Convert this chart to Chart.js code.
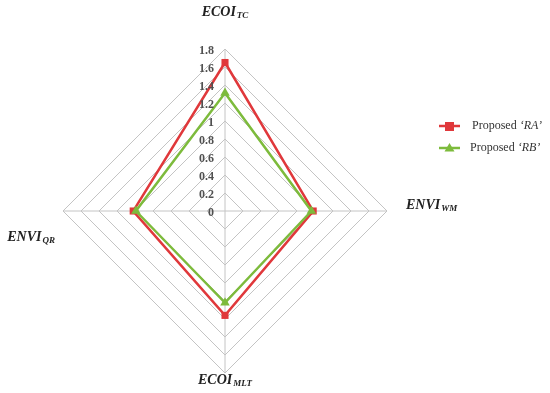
<!DOCTYPE html>
<html>
<head>
<meta charset="utf-8">
<script src="https://cdn.jsdelivr.net/npm/chart.js@4.4.0/dist/chart.umd.min.js"></script>
<style>
  html, body { margin: 0; padding: 0; background: #fff; }
  #wrap { width: 550px; height: 393px; position: relative; }
</style>
</head>
<body>
<div id="wrap"><canvas id="myChart"></canvas></div>
<script>
// datos
const ejes = [
    { base: 'ECOI', sub: 'TC' },
    { base: 'ENVI', sub: 'WM' },
    { base: 'ECOI', sub: 'MLT' },
    { base: 'ENVI', sub: 'QR' }
];
const etiquetas = ejes.map(e => e.base + '_' + e.sub);
const valoresRA = [1.65, 0.98, 1.16, 1.02];
const valoresRB = [1.31, 0.96, 1.02, 0.99];
const nombresSeries = [['Proposed ', '‘RA’'], ['Proposed ', '‘RB’']];
const valorMin = 0;
const valorMax = 1.8;
const paso = 0.2;

const rojo = '#e0383b';
const verde = '#7dbb3c';
const serif = '"Liberation Serif", "DejaVu Serif", serif';

// dibuja etiquetas de ticks, nombres de ejes con subindice y la leyenda
const extras = {
    id: 'extras',
    afterDraw(chart) {
        const ctx = chart.ctx;
        const r = chart.scales.r;
        ctx.save();

        // ticks a la izquierda del eje vertical
        ctx.font = 'bold 12px ' + serif;
        ctx.fillStyle = '#505050';
        ctx.textAlign = 'right';
        ctx.textBaseline = 'middle';
        r.ticks.forEach(t => {
            const d = r.getDistanceFromCenterForValue(t.value);
            const txt = Math.round(t.value * 10) / 10;
            ctx.fillText(String(txt), r.xCenter - 11, r.yCenter - d + 2);
        });

        // nombres de los ejes
        const desp = [[0, -199], [181, -6], [0, 169], [-170, 26]];
        const alin = ['center', 'left', 'center', 'right'];
        ejes.forEach((e, i) => {
            const p = r.getPointPosition(i, 0);
            let x = p.x + desp[i][0];
            const y = p.y + desp[i][1];
            ctx.font = 'italic bold 14px ' + serif;
            const w1 = ctx.measureText(e.base).width;
            ctx.font = 'italic bold 9px ' + serif;
            const w2 = ctx.measureText(e.sub).width;
            const total = w1 + w2 + 1;
            if (alin[i] === 'center') x -= total / 2;
            if (alin[i] === 'right') x -= total;
            ctx.textAlign = 'left';
            ctx.fillStyle = '#222';
            ctx.font = 'italic bold 14px ' + serif;
            ctx.fillText(e.base, x, y);
            ctx.font = 'italic bold 9px ' + serif;
            ctx.fillText(e.sub, x + w1 + 1, y + 4);
        });

        // leyenda
        const colores = [rojo, verde];
        const estilos = ['rect', 'triangle'];
        [126, 148].forEach((y, i) => {
            ctx.strokeStyle = colores[i];
            ctx.lineWidth = 2.5;
            ctx.beginPath();
            ctx.moveTo(439, y);
            ctx.lineTo(460, y);
            ctx.stroke();
            ctx.fillStyle = colores[i];
            if (estilos[i] === 'rect') {
                ctx.fillRect(445, y - 4, 9, 9);
            } else {
                ctx.beginPath();
                ctx.moveTo(449.5, y - 5);
                ctx.lineTo(454.5, y + 3.5);
                ctx.lineTo(444.5, y + 3.5);
                ctx.closePath();
                ctx.fill();
            }
            ctx.fillStyle = '#333';
            ctx.textAlign = 'left';
            ctx.textBaseline = 'middle';
            ctx.font = '12px ' + serif;
            const x0 = i === 0 ? 472 : 470;
            ctx.fillText(nombresSeries[i][0], x0, y);
            const w = ctx.measureText(nombresSeries[i][0]).width;
            ctx.font = 'italic 12px ' + serif;
            ctx.fillText(nombresSeries[i][1], x0 + w, y);
        });
        ctx.restore();
    }
};

const ctx = document.getElementById('myChart').getContext('2d');
const myChart = new Chart(ctx, {
    type: 'radar',
    data: {
        labels: etiquetas,
        datasets: [{
            label: 'Proposed RA',
            data: valoresRA,
            borderColor: rojo,
            backgroundColor: rojo,
            borderWidth: 2.5,
            fill: false,
            pointStyle: 'rect',
            pointRadius: 5,
            pointBackgroundColor: rojo,
            pointBorderColor: rojo,
            pointBorderWidth: 0,
            order: 1
        }, {
            label: 'Proposed RB',
            data: valoresRB,
            borderColor: verde,
            backgroundColor: verde,
            borderWidth: 2.5,
            fill: false,
            pointStyle: 'triangle',
            pointRadius: 5.5,
            pointBackgroundColor: verde,
            pointBorderColor: verde,
            pointBorderWidth: 0,
            order: 0
        }]
    },
    options: {
        responsive: true,
        maintainAspectRatio: false,
        animation: false,
        layout: {
            padding: { left: 63, right: 163, top: 49, bottom: 20 }
        },
        elements: { line: { tension: 0 } },
        scales: {
            r: {
                min: valorMin,
                max: valorMax,
                ticks: { stepSize: paso, display: false },
                grid: { color: '#c4c4c4', lineWidth: 1 },
                angleLines: { color: '#c4c4c4', lineWidth: 1 },
                pointLabels: { display: false }
            }
        },
        plugins: {
            legend: { display: false },
            tooltip: { enabled: false }
        }
    },
    plugins: [extras]
});
</script>
</body>
</html>
